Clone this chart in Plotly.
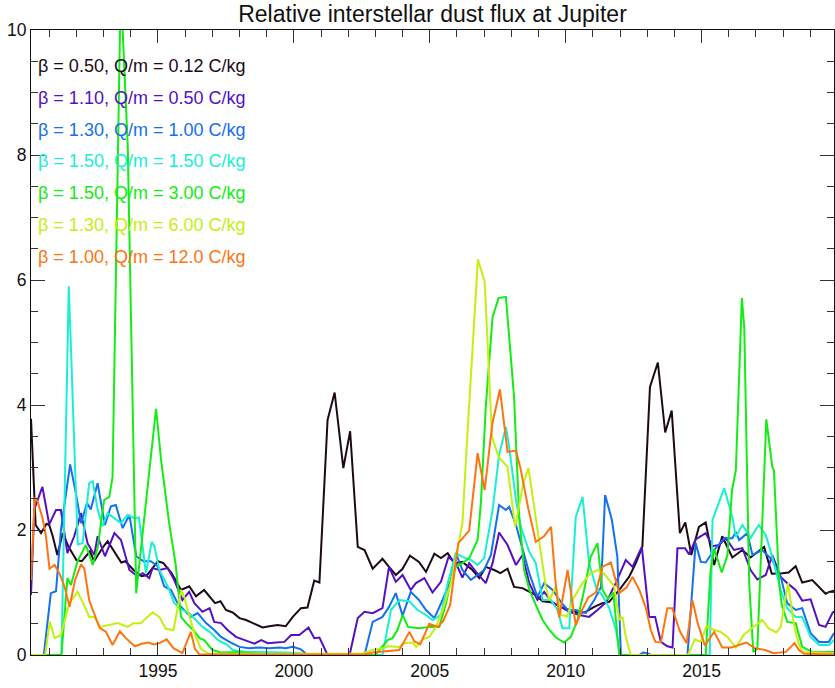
import plotly.graph_objects as go

# ---- data (year, relative flux) ----
black_t = [1990.33, 1990.5, 1990.7, 1990.9, 1991.0, 1991.13, 1991.3, 1991.5, 1991.7, 1992.0, 1992.2, 1992.5, 1992.65,
           1993.0, 1993.15, 1993.4, 1993.65, 1993.8, 1994.1, 1994.4, 1994.6, 1995.0, 1995.2, 1995.5, 1995.85, 1996.15,
           1996.4, 1996.7, 1997.1, 1997.3, 1997.5, 1997.75, 1998.0, 1998.24, 1998.55, 1998.85, 1999.1, 1999.4, 1999.7,
           1999.96, 2000.26, 2000.5, 2000.75, 2000.94, 2001.24, 2001.5, 2001.82, 2002.07, 2002.35, 2002.6, 2002.9,
           2003.26, 2003.5, 2003.75, 2004.0, 2004.27, 2004.6, 2004.86, 2005.17, 2005.41, 2005.66, 2005.9, 2006.2,
           2006.57, 2006.82, 2007.06, 2007.37, 2007.6, 2007.86, 2008.1, 2008.41, 2008.66, 2008.9, 2009.15, 2009.52,
           2009.82, 2010.13, 2010.5, 2010.74, 2011.05, 2011.35, 2011.6, 2011.97, 2012.33, 2012.58, 2012.82, 2013.1,
           2013.39, 2013.66, 2013.9, 2014.2, 2014.4, 2014.62, 2014.9, 2015.15, 2015.46, 2015.76, 2016.13, 2016.5,
           2016.8, 2017.3, 2017.58, 2017.97, 2018.2, 2018.46, 2018.7, 2019.07, 2019.3, 2019.56, 2019.7, 2019.87]
black_v = [3.78, 2.08, 1.95, 2.1, 2.08, 1.9, 1.6, 1.95, 1.74, 1.52, 1.5, 1.66, 1.5,
           1.74, 1.82, 1.66, 1.48, 1.5, 1.36, 1.26, 1.28, 1.5, 1.47, 1.31, 1.04, 1.1,
           0.94, 1.04, 0.83, 0.86, 0.72, 0.68, 0.59, 0.56, 0.5, 0.44, 0.46, 0.48, 0.46,
           0.61, 0.75, 0.76, 1.19, 1.16, 3.76, 4.2, 2.99, 3.58, 1.73, 1.68, 1.38,
           1.54, 1.41, 1.28, 1.38, 1.59, 1.49, 1.33, 1.62, 1.55, 1.63, 1.47, 1.49,
           1.36, 1.23, 1.41, 1.36, 1.31, 1.38, 1.09, 1.07, 1.01, 0.96, 0.86, 0.84,
           0.77, 0.73, 0.67, 0.69, 0.77, 0.83, 0.85, 1.04, 1.25, 1.47, 1.73, 4.29,
           4.68, 3.56, 3.91, 1.95, 2.12, 1.6, 2.05, 2.12, 1.44, 1.9, 1.56, 1.68,
           1.56, 1.73, 1.3, 1.31, 1.32, 1.42, 1.16, 1.2, 1.09, 0.98, 1.01, 1.03]

purple_t = [1990.33, 1990.45, 1990.75, 1991.0, 1991.25, 1991.43, 1991.67, 1991.92, 1992.17, 1992.41, 1992.66, 1992.78,
            1993.05, 1993.4, 1993.64, 1993.95, 1994.25, 1994.44, 1994.68, 1994.8, 1995.05, 1995.36, 1995.6, 1995.9,
            1996.15, 1996.34, 1996.64, 1996.9, 1997.07, 1997.32, 1997.56, 1997.87, 1998.24, 1998.55, 1998.8, 1999.04,
            1999.34, 1999.65, 1999.9, 2000.2, 2000.54, 2000.75, 2000.94, 2001.24, 2002.05, 2002.35, 2002.6, 2002.9,
            2003.26, 2003.5, 2003.75, 2004.0, 2004.3, 2004.49, 2004.8, 2005.1, 2005.41, 2005.69, 2005.96, 2006.2,
            2006.45, 2006.7, 2007.06, 2007.31, 2007.55, 2007.86, 2008.17, 2008.41, 2008.66, 2008.96, 2009.21, 2009.52,
            2009.82, 2010.13, 2010.5, 2010.86, 2011.17, 2011.5, 2011.84, 2012.21, 2012.46, 2012.8, 2013.07, 2013.29,
            2013.5, 2013.74, 2013.93, 2014.11, 2014.39, 2014.54, 2014.78, 2015.15, 2015.4, 2015.64, 2015.89, 2016.19,
            2016.5, 2016.8, 2017.05, 2017.36, 2017.6, 2017.91, 2018.15, 2018.46, 2018.7, 2019.01, 2019.32, 2019.56,
            2019.81, 2019.87]
purple_v = [0.96, 2.33, 2.69, 2.09, 2.32, 2.32, 1.63, 1.9, 2.27, 1.79, 1.6, 1.9,
            1.58, 1.95, 1.84, 1.36, 1.26, 1.31, 1.23, 1.39, 1.36, 1.39, 1.2, 0.88,
            1.01, 0.83, 0.69, 0.75, 0.53, 0.51, 0.4, 0.29, 0.23, 0.18, 0.24, 0.19,
            0.2, 0.21, 0.32, 0.32, 0.44, 0.27, 0.28, 0.0, 0.0, 0.59, 0.69, 0.67,
            0.75, 1.41, 1.17, 1.28, 1.04, 1.15, 1.23, 1.0, 1.17, 1.57, 1.47, 1.24,
            1.47, 1.33, 1.15, 1.47, 1.96, 1.76, 1.44, 1.6, 1.15, 0.88, 1.01, 0.83,
            0.77, 0.69, 0.64, 0.61, 0.72, 0.85, 1.15, 1.52, 1.41, 1.73, 0.61, 0.61,
            0.21, 0.14, 0.12, 1.71, 1.71, 1.61, 1.85, 1.95, 1.74, 1.76, 1.87, 1.68,
            1.71, 1.36, 1.21, 1.28, 1.6, 1.25, 1.15, 1.04, 0.87, 0.89, 0.48, 0.45,
            0.67, 0.7]

blue_t = [1990.33, 1990.8, 1991.06, 1991.25, 1991.43, 1991.77, 1991.98, 1992.17, 1992.39, 1992.53, 1992.78, 1993.05,
          1993.27, 1993.45, 1993.7, 1993.95, 1994.2, 1994.47, 1994.74, 1994.99, 1995.23, 1995.48, 1995.72, 1995.97,
          1996.21, 1996.46, 1996.77, 1997.07, 1997.32, 1997.63, 1998.0, 1998.36, 1998.73, 1999.1, 1999.47, 1999.7,
          1999.96, 2000.26, 2000.5, 2002.6, 2002.9, 2003.26, 2003.5, 2003.75, 2004.0, 2004.3, 2004.6, 2004.86,
          2005.17, 2005.47, 2005.78, 2005.96, 2006.2, 2006.51, 2006.76, 2007.0, 2007.25, 2007.55, 2007.8, 2007.92,
          2008.17, 2008.41, 2008.66, 2008.96, 2009.21, 2009.52, 2009.82, 2010.07, 2010.37, 2010.74, 2011.05, 2011.3,
          2011.45, 2011.7, 2011.9, 2012.03, 2012.7, 2012.85, 2013.0, 2013.15, 2014.48, 2014.78, 2014.97, 2015.15,
          2015.46, 2015.83, 2016.13, 2016.26, 2016.38, 2016.68, 2016.87, 2017.23, 2017.6, 2017.91, 2018.15, 2018.46,
          2018.7, 2019.01, 2019.32, 2019.68, 2019.87]
blue_v = [0.0, 0.0, 0.99, 1.02, 2.0, 3.05, 2.59, 2.11, 2.43, 2.33, 2.75, 2.08,
          2.38, 2.4, 2.03, 2.24, 1.58, 1.5, 1.5, 1.42, 1.1, 1.04, 0.83, 0.72,
          0.61, 0.67, 0.51, 0.4, 0.29, 0.21, 0.13, 0.11, 0.12, 0.11, 0.12, 0.11,
          0.13, 0.09, 0.0, 0.0, 0.53, 0.61, 0.77, 0.99, 0.63, 1.01, 0.88, 0.72,
          0.59, 0.88, 1.2, 1.63, 1.36, 1.2, 1.28, 1.36, 1.6, 2.4, 2.32, 2.37,
          2.08, 1.68, 1.31, 0.93, 1.15, 1.04, 0.85, 0.72, 0.72, 0.67, 0.88, 1.09,
          2.56, 2.16, 1.57, 0.0, 0.0, 0.04, 0.03, 0.0, 0.0, 1.79, 1.49, 1.48,
          1.68, 1.87, 1.87, 1.97, 1.84, 1.95, 1.6, 1.68, 1.52, 1.25, 0.83, 0.72,
          0.75, 0.35, 0.21, 0.21, 0.35]

cyan_t = [1990.33, 1991.45, 1991.72, 1992.05, 1992.23, 1992.47, 1992.6, 1992.78, 1992.96, 1993.15, 1993.39, 1993.64,
          1993.88, 1994.13, 1994.3, 1994.44, 1994.56, 1994.77, 1994.87, 1995.05, 1995.36, 1995.6, 1995.9, 1996.15,
          1996.4, 1996.64, 1996.9, 1997.2, 1997.56, 1997.75, 1998.24, 1998.73, 1999.22, 1999.7, 2000.2, 2000.5,
          2003.26, 2003.57, 2003.88, 2004.24, 2004.55, 2004.86, 2005.1, 2005.41, 2005.66, 2005.96, 2006.2, 2006.51,
          2006.76, 2007.0, 2007.31, 2007.55, 2007.8, 2007.92, 2008.17, 2008.35, 2008.66, 2008.9, 2009.15, 2009.45,
          2009.7, 2009.88, 2010.13, 2010.37, 2010.62, 2010.86, 2011.11, 2011.35, 2011.6, 2011.85, 2012.0, 2015.3,
          2015.4, 2015.83, 2016.13, 2016.26, 2016.5, 2016.8, 2017.1, 2017.36, 2017.6, 2017.91, 2018.15, 2018.46,
          2018.7, 2019.01, 2019.32, 2019.68, 2019.87]
cyan_v = [0.0, 0.0, 5.9, 1.77, 1.79, 2.75, 2.78, 2.33, 2.06, 2.27, 2.19, 2.11,
          2.24, 2.19, 2.2, 1.74, 1.31, 1.81, 1.74, 1.36, 1.1, 0.83, 0.72, 0.67,
          0.56, 0.45, 0.37, 0.24, 0.16, 0.08, 0.05, 0.05, 0.04, 0.04, 0.03, 0.0,
          0.0, 0.72, 0.88, 0.86, 0.72, 0.64, 0.56, 0.64, 1.15, 1.63, 1.57, 1.52,
          1.44, 1.55, 2.32, 3.2, 3.65, 3.33, 2.48, 2.05, 1.65, 1.47, 0.88, 0.88,
          0.72, 0.43, 0.43, 2.21, 2.53, 1.47, 1.09, 0.95, 0.75, 0.4, 0.0, 0.0,
          2.16, 2.67, 2.21, 1.89, 2.08, 1.87, 2.08, 1.92, 1.57, 1.04, 0.75, 0.61,
          0.61, 0.29, 0.16, 0.16, 0.24]

green_t = [1990.33, 1991.45, 1991.67, 1991.8, 1992.04, 1992.35, 1992.6, 1992.78, 1993.02, 1993.21, 1993.33, 1993.63,
           1993.89, 1994.2, 1994.93, 1995.12, 1995.4, 1995.65, 1995.85, 1996.04, 1996.3, 1996.53, 1996.7, 1997.0,
           1997.3, 1998.0, 1998.6, 1999.0, 2003.0, 2003.2, 2003.45, 2003.63, 2003.81, 2004.0, 2004.2, 2004.6,
           2004.98, 2005.35, 2005.6, 2005.78, 2005.96, 2006.2, 2006.45, 2006.76, 2006.88, 2007.06, 2007.31, 2007.53,
           2007.8, 2008.1, 2008.29, 2008.47, 2008.66, 2008.9, 2009.15, 2009.4, 2009.64, 2009.94, 2010.19, 2010.43,
           2010.68, 2010.92, 2011.17, 2011.35, 2011.55, 2011.75, 2011.97, 2015.15, 2015.33, 2015.46, 2015.74, 2015.95,
           2016.12, 2016.26, 2016.48, 2016.57, 2016.75, 2016.9, 2017.05, 2017.38, 2017.6, 2017.66, 2017.85, 2017.95,
           2018.15, 2018.46, 2018.7, 2019.07, 2019.87]
green_v = [0.0, 0.0, 1.23, 1.12, 1.5, 1.76, 1.44, 1.71, 2.48, 2.53, 2.85, 10.7,
           8.13, 0.99, 3.94, 3.1, 2.15, 1.45, 0.61, 0.51, 0.4, 0.27, 0.24, 0.08,
           0.04, 0.05, 0.02, 0.0, 0.0, 0.1, 0.24, 0.27, 0.4, 0.64, 0.45, 0.43,
           0.45, 0.45, 0.83, 1.2, 1.41, 1.47, 1.55, 1.84, 2.43, 3.97, 5.41, 5.71,
           5.73, 4.13, 2.21, 1.36, 1.05, 0.8, 0.56, 0.4, 0.28, 0.2, 0.29, 0.56,
           1.04, 1.57, 1.79, 1.05, 0.9, 1.0, 0.0, 0.0, 1.36, 1.7, 1.32, 1.6,
           2.64, 2.96, 5.71, 5.23, 1.15, 0.05, 0.1, 3.77, 3.01, 2.96, 1.15, 0.8,
           0.53, 0.51, 0.13, 0.05, 0.05]

yellow_t = [1990.33, 1990.85, 1991.02, 1991.2, 1991.43, 1991.74, 1992.04, 1992.23, 1992.47, 1992.66, 1992.88, 1993.1,
            1993.33, 1993.52, 1993.7, 1993.88, 1994.1, 1994.37, 1994.56, 1994.8, 1995.05, 1995.29, 1995.57, 1995.85,
            1995.97, 1996.09, 1996.34, 1996.58, 1996.83, 1997.1, 2002.5, 2002.9, 2003.26, 2003.5, 2003.88, 2004.06,
            2004.37, 2004.5, 2004.74, 2004.98, 2005.23, 2005.47, 2005.78, 2006.08, 2006.2, 2006.35, 2006.77, 2007.02,
            2007.29, 2007.53, 2007.86, 2008.14, 2008.44, 2008.63, 2009.27, 2009.4, 2009.64, 2009.82, 2010.05, 2010.28,
            2010.62, 2010.92, 2011.17, 2011.4, 2011.78, 2011.97, 2012.09, 2012.21, 2012.39, 2014.5, 2014.75, 2014.97,
            2015.18, 2015.46, 2015.7, 2015.95, 2016.26, 2016.56, 2016.87, 2017.23, 2017.48, 2017.75, 2017.91, 2018.18,
            2018.4, 2018.55, 2018.7, 2019.87]
yellow_v = [0.0, 0.0, 0.53, 0.27, 0.32, 0.83, 1.01, 0.85, 0.61, 0.61, 0.45, 0.47,
            0.5, 0.51, 0.48, 0.45, 0.51, 0.51, 0.59, 0.68, 0.61, 0.42, 0.4, 1.04,
            0.93, 0.72, 0.35, 0.1, 0.03, 0.02, 0.02, 0.08, 0.11, 0.14, 0.13, 0.19,
            0.2, 0.13, 0.25, 0.29, 0.45, 0.72, 1.15, 1.84, 2.1, 3.28, 6.33, 5.97,
            3.49, 3.17, 3.01, 2.05, 2.75, 2.99, 1.09, 0.88, 1.1, 0.64, 0.62, 0.9,
            1.15, 1.31, 1.36, 1.31, 1.1, 0.56, 0.61, 0.29, 0.0, 0.0, 0.25, 0.21,
            0.47, 0.4, 0.37, 0.29, 0.12, 0.33, 0.43, 0.56, 0.42, 0.36, 0.45, 1.15,
            0.48, 0.2, 0.05, 0.03]

orange_t = [1990.33, 1990.47, 1990.57, 1990.75, 1990.88, 1991.01, 1991.2, 1991.37, 1991.56, 1991.75, 1991.95, 1992.17,
            1992.29, 1992.47, 1992.62, 1992.85, 1993.09, 1993.33, 1993.6, 1993.82, 1994.15, 1994.4, 1994.65, 1994.85,
            1995.05, 1995.32, 1995.57, 1995.9, 1996.21, 1996.36, 1996.52, 2002.6, 2002.9, 2003.3, 2003.88, 2004.25,
            2004.43, 2004.65, 2004.98, 2005.3, 2005.5, 2005.75, 2006.05, 2006.45, 2006.76, 2007.02, 2007.3, 2007.58,
            2007.86, 2008.17, 2008.35, 2008.62, 2008.9, 2009.2, 2009.46, 2009.62, 2009.76, 2010.07, 2010.19, 2010.37,
            2010.6, 2010.83, 2011.11, 2011.35, 2011.66, 2011.97, 2012.24, 2012.46, 2012.72, 2012.95, 2013.13, 2013.3,
            2013.5, 2013.74, 2013.92, 2014.2, 2014.45, 2014.66, 2014.85, 2015.12, 2015.46, 2015.76, 2016.1, 2016.4,
            2016.65, 2016.95, 2017.33, 2017.66, 2018.1, 2018.42, 2018.58, 2018.77, 2019.87]
orange_v = [1.2, 2.52, 2.46, 2.2, 1.9, 1.38, 1.44, 1.31, 1.1, 0.77, 1.2, 1.45,
            1.38, 0.88, 0.7, 0.44, 0.37, 0.16, 0.38, 0.27, 0.14, 0.18, 0.2, 0.17,
            0.19, 0.25, 0.11, 0.03, 0.37, 0.1, 0.01, 0.01, 0.04, 0.06, 0.08, 0.37,
            0.22, 0.17, 0.5, 0.45, 0.55, 0.8, 1.79, 1.99, 3.23, 2.64, 3.7, 4.25,
            3.25, 3.27, 2.96, 2.35, 1.81, 1.9, 2.05, 1.2, 0.6, 1.36, 0.99, 0.48,
            0.72, 0.92, 1.0, 1.41, 1.48, 0.99, 1.08, 1.25, 1.03, 0.75, 0.4, 0.21,
            0.2, 0.75, 0.75, 0.38, 0.19, 0.88, 0.52, 0.15, 0.37, 0.12, 0.12, 0.16,
            0.2, 0.11, 0.08, 0.03, 0.05, 0.19, 0.08, 0.02, 0.01]

labels = ["β = 0.50, Q/m = 0.12 C/kg", "β = 1.10, Q/m = 0.50 C/kg", "β = 1.30, Q/m = 1.00 C/kg",
          "β = 1.50, Q/m = 1.50 C/kg", "β = 1.50, Q/m = 3.00 C/kg", "β = 1.30, Q/m = 6.00 C/kg",
          "β = 1.00, Q/m = 12.0 C/kg"]
colors = ["#1c0a18", "#5510c4", "#1470f0", "#18f0d4", "#12ee12", "#c4f010", "#ff7410"]

series = [(black_t, black_v), (purple_t, purple_v), (blue_t, blue_v), (cyan_t, cyan_v),
          (green_t, green_v), (yellow_t, yellow_v), (orange_t, orange_v)]

FONT = "Arial, 'Liberation Sans', Helvetica, sans-serif"

fig = go.Figure()
for (t, v), c, lab in zip(series, colors, labels):
    fig.add_trace(go.Scatter(x=t, y=v, mode="lines", line=dict(color=c, width=2), name=lab,
                             showlegend=False))

# legend as coloured text
leg_y = [9.42, 8.91, 8.40, 7.90, 7.39, 6.88, 6.37]
for lab, c, yy in zip(labels, colors, leg_y):
    fig.add_annotation(x=0.006, xref="paper", y=yy, yref="y", text=lab, showarrow=False,
                       xanchor="left", yanchor="middle", font=dict(family=FONT, size=18, color=c))

axis_common = dict(showline=True, linecolor="#111", linewidth=1, mirror="ticks", ticks="inside",
                   tickcolor="#333", tickwidth=1, showgrid=False, zeroline=False,
                   tickfont=dict(family=FONT, size=17.5, color="#111"))

fig.update_layout(
    width=835, height=688,
    margin=dict(l=31, r=1, t=30, b=33),
    paper_bgcolor="white", plot_bgcolor="white",
    title=dict(text="Relative interstellar dust flux at Jupiter", x=0.518, xanchor="center",
               y=0.979, yanchor="middle", yref="container",
               font=dict(family=FONT, size=23, color="#111")),
    xaxis=dict(range=[1990.33, 2019.87], tick0=2000, dtick=5, ticklen=13,
               minor=dict(dtick=1, ticks="inside", ticklen=7, tickcolor="#333"), **axis_common),
    yaxis=dict(range=[0, 10], tick0=0, dtick=2, ticklen=14,
               minor=dict(dtick=0.5, ticks="inside", ticklen=7, tickcolor="#333"), **axis_common),
)

fig.write_html("out.html")
